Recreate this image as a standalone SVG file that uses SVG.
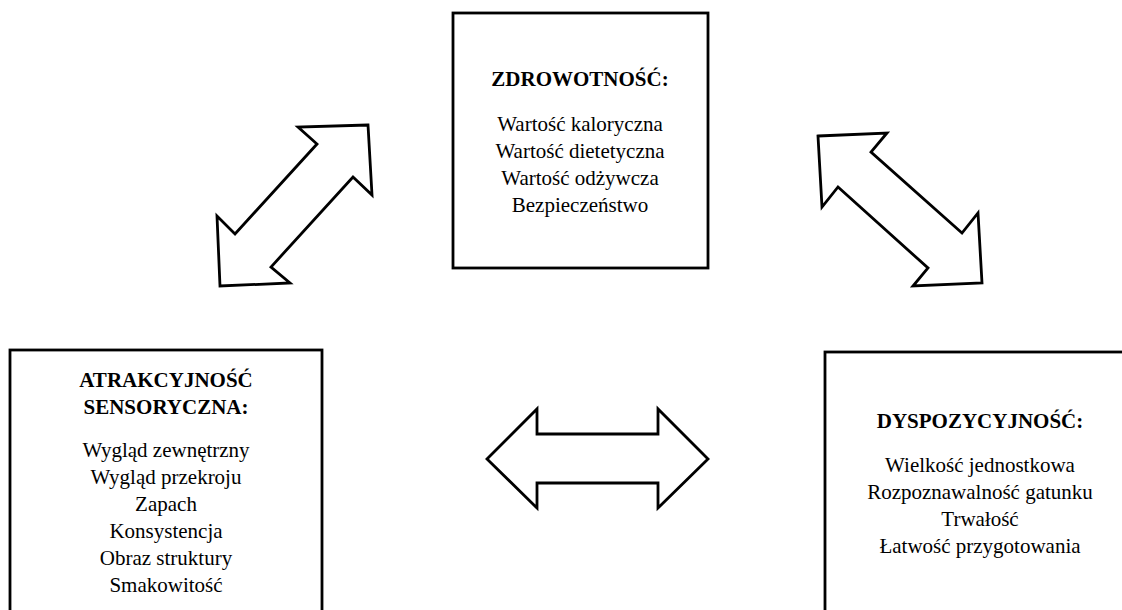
<svg xmlns="http://www.w3.org/2000/svg" width="1122" height="610" viewBox="0 0 1122 610">
  <style>
    .box { fill: #fff; stroke: #000; stroke-width: 2.8; }
    .arrow { fill: #fff; stroke: #000; stroke-width: 2.8; stroke-linejoin: miter; }
    text { font-family: "Liberation Serif", "Times New Roman", serif; font-size: 21px; fill: #000; text-anchor: middle; }
    .title { font-weight: bold; }
  </style>
  <rect width="1122" height="610" fill="#fff"/>

  <!-- double-headed block arrows linking the three groups -->
  <g id="connectors">
    <polygon class="arrow" points="368,125 298,127 317,144 235,234 217,216 220,286 290,283 271,267 353,177 372,195"/>
    <polygon class="arrow" points="818,136 887,133 871,152 962,233 978,213 982,283 913,286 928,268 838,187 822,207"/>
    <polygon class="arrow" points="487,459 537,409 537,434 658,434 658,409 708,459 658,508 658,483 537,483 537,508"/>
  </g>

  <g id="zdrowotnosc">
    <rect class="box" x="453" y="13" width="255" height="255"/>
    <text class="title" x="580" y="86">ZDROWOTNOŚĆ:</text>
    <text x="580" y="131">Wartość kaloryczna</text>
    <text x="580" y="158">Wartość dietetyczna</text>
    <text x="580" y="185">Wartość odżywcza</text>
    <text x="580" y="212">Bezpieczeństwo</text>
  </g>

  <g id="atrakcyjnosc">
    <rect class="box" x="10" y="350" width="312" height="300"/>
    <text class="title" x="166" y="387">ATRAKCYJNOŚĆ</text>
    <text class="title" x="166" y="414">SENSORYCZNA:</text>
    <text x="166" y="457">Wygląd zewnętrzny</text>
    <text x="166" y="484">Wygląd przekroju</text>
    <text x="166" y="511">Zapach</text>
    <text x="166" y="538">Konsystencja</text>
    <text x="166" y="565">Obraz struktury</text>
    <text x="166" y="592">Smakowitość</text>
  </g>

  <g id="dyspozycyjnosc">
    <rect class="box" x="825" y="352" width="320" height="300"/>
    <text class="title" x="980" y="428">DYSPOZYCYJNOŚĆ:</text>
    <text x="980" y="472">Wielkość jednostkowa</text>
    <text x="980" y="499">Rozpoznawalność gatunku</text>
    <text x="980" y="526">Trwałość</text>
    <text x="980" y="553">Łatwość przygotowania</text>
  </g>
</svg>
